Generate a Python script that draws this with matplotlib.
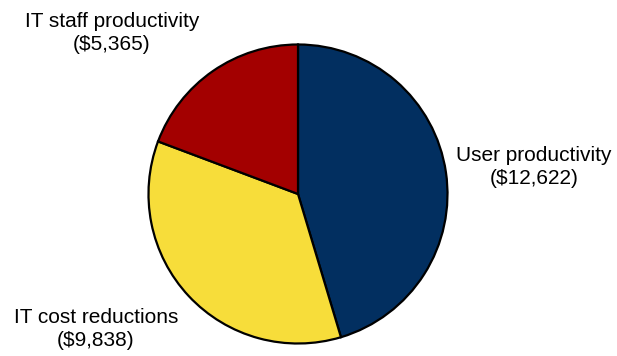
import matplotlib
matplotlib.use("Agg")
import matplotlib.pyplot as plt

categories = ["User productivity", "IT cost reductions", "IT staff productivity"]
values = [12622, 9838, 5365]
colors = ["#022F60", "#F7DD3A", "#A30000"]

W, H = 617, 356
fig = plt.figure(figsize=(W / 100, H / 100), dpi=100)
plt.rcParams["font.family"] = ["Liberation Sans", "DejaVu Sans"]

# pie centred at (298, 194) px with radius ~151 px
cx, cy, r = 298, 194, 151
ax = fig.add_axes([(cx - r) / W, (H - cy - r) / H, 2 * r / W, 2 * r / H])
ax.pie(values, colors=colors, startangle=90, counterclock=False,
       radius=1.0, wedgeprops=dict(edgecolor="black", linewidth=1.6))
ax.set_xlim(-1.01, 1.01)
ax.set_ylim(-1.01, 1.01)
ax.set_aspect("equal")
ax.axis("off")

label_pos = {
    "User productivity": (534, 167),
    "IT cost reductions": (96, 329),
    "IT staff productivity": (112, 33),
}
for name, val in zip(categories, values):
    x, y = label_pos[name]
    fig.text(x / W, 1 - y / H, f"{name}\n(${val:,})", ha="center", va="center",
             fontsize=15, linespacing=1.32, color="black")

fig.savefig("out.png", dpi=100)
